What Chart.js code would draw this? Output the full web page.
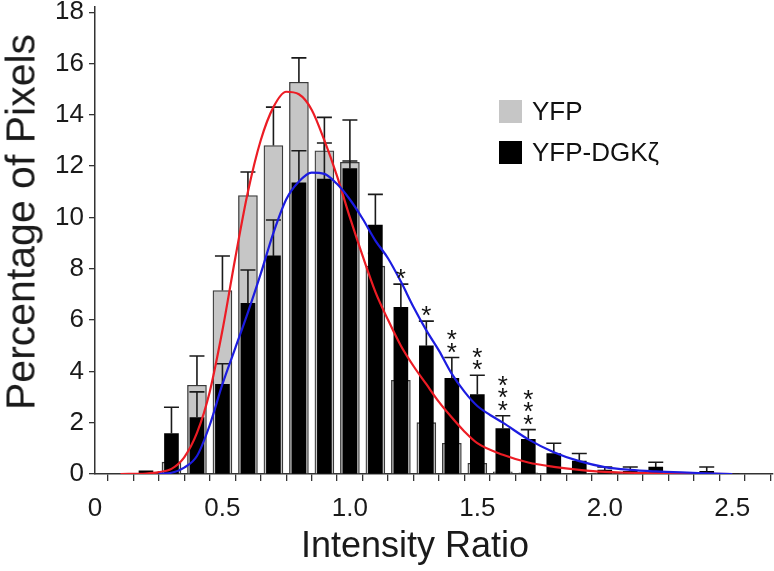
<!DOCTYPE html>
<html>
<head>
<meta charset="utf-8">
<script src="https://cdn.jsdelivr.net/npm/chart.js@4.4.1/dist/chart.umd.min.js"></script>
<style>
  html, body { margin: 0; padding: 0; background: #fff; }
  #wrap { position: relative; width: 774px; height: 571px; overflow: hidden; }
  .txt { position: absolute; font-family: "Liberation Sans", Arial, sans-serif; color: #1a1a1a; white-space: nowrap; }
  #legend { left: 499px; top: 91px; font-size: 26px; color: #111; }
  .item { display: flex; align-items: center; height: 41px; }
  .sw { width: 23px; height: 23px; margin-right: 10px; box-sizing: border-box; }
  #xtitle { left: 415px; top: 527px; font-size: 36px; line-height: 36px; transform: translateX(-50%); }
  #ytitle { left: 21px; top: 222px; font-size: 41px; line-height: 41px; transform: translate(-50%, -50%) rotate(-90deg); }
</style>
</head>
<body>
<div id="wrap">
  <canvas id="c" width="774" height="571"></canvas>
  <div id="legend" class="txt">
    <div class="item"><span class="sw" style="background:#c6c6c6"></span><span>YFP</span></div>
    <div class="item"><span class="sw" style="background:#000"></span><span>YFP-DGKζ</span></div>
  </div>
  <div id="xtitle" class="txt">Intensity Ratio</div>
  <div id="ytitle" class="txt">Percentage of Pixels</div>
</div>
<script>
// Bin centres (intensity ratio)
const bins = [0.2, 0.3, 0.4, 0.5, 0.6, 0.7, 0.8, 0.9, 1.0, 1.1, 1.2, 1.3, 1.4, 1.5, 1.6, 1.7, 1.8, 1.9, 2.0, 2.1, 2.2, 2.3, 2.4, 2.5];
// YFP (grey bars) percentage of pixels and upper error
const yfpValues = [0, 0.46, 3.46, 7.15, 10.85, 12.8, 15.27, 12.6, 12.15, 8.1, 3.65, 2.0, 1.2, 0.42, 0.08, 0.05, 0.03, 0.03, 0.03, 0.03, 0.03, 0.03, 0.03, 0];
const yfpErrors = [null, null, 1.14, 1.35, 0.92, 1.5, 0.95, 1.3, 1.65, 0.5, null, null, null, null, null, null, null, null, null, null, null, null, null, null];
// YFP-DGKζ (black bars) percentage of pixels and upper error
const dgkValues = [0.12, 1.58, 2.2, 3.5, 6.65, 8.5, 11.35, 11.5, 11.9, 9.7, 6.5, 5.0, 3.73, 3.1, 1.77, 1.35, 0.8, 0.5, 0.15, 0.1, 0.27, 0.03, 0.1, 0];
const dgkErrors = [null, 1.02, 1.0, 0.8, 1.3, 1.4, 1.25, 1.4, 0.3, 1.2, 0.9, 0.96, 0.81, 0.75, 0.5, 0.38, 0.4, 0.3, 0.12, 0.17, 0.19, null, 0.17, null];
// Significance markers
const starBins = [1.2, 1.3, 1.4, 1.5, 1.6, 1.7];
const starCounts = [1, 1, 2, 2, 3, 3];
// Fitted curves
const redX = [0.10, 0.20, 0.25, 0.30, 0.35, 0.40, 0.45, 0.50, 0.55, 0.60, 0.65, 0.70, 0.75, 0.80, 0.85, 0.90, 0.95, 1.00, 1.05, 1.10, 1.15, 1.20, 1.25, 1.30, 1.35, 1.40, 1.45, 1.50, 1.60, 1.70, 1.80, 1.90, 2.00, 2.20, 2.50];
const redY = [0, 0.02, 0.07, 0.2, 0.65, 1.6, 3.2, 5.6, 8.4, 11.0, 13.0, 14.3, 14.9, 14.8, 14.2, 13.0, 11.6, 10.0, 8.5, 7.1, 6.0, 5.0, 4.2, 3.5, 2.8, 2.2, 1.65, 1.2, 0.75, 0.45, 0.28, 0.16, 0.08, 0.03, 0];
const blueX = [0.25, 0.30, 0.35, 0.40, 0.45, 0.50, 0.55, 0.60, 0.65, 0.70, 0.75, 0.80, 0.85, 0.90, 0.95, 1.00, 1.05, 1.10, 1.15, 1.20, 1.25, 1.30, 1.35, 1.40, 1.45, 1.50, 1.55, 1.60, 1.70, 1.80, 1.90, 2.00, 2.10, 2.20, 2.30, 2.40, 2.50];
const blueY = [0, 0.05, 0.25, 0.7, 1.9, 3.5, 4.9, 6.3, 7.8, 9.4, 10.7, 11.4, 11.75, 11.7, 11.3, 10.7, 9.95, 9.1, 8.4, 7.5, 6.5, 5.6, 4.8, 3.9, 3.2, 2.65, 2.3, 2.0, 1.35, 0.85, 0.5, 0.27, 0.16, 0.1, 0.06, 0.03, 0];
// Axis tick labels
const yTickLabels = ['0', '2', '4', '6', '8', '10', '12', '14', '16', '18'];
const xTickLabels = { '0': '0', '0.5': '0.5', '1': '1.0', '1.5': '1.5', '2': '2.0', '2.5': '2.5' };

const FONT = '"Liberation Sans", Arial, sans-serif';

const errorBars = {
  id: 'errorBars',
  afterDatasetDraw(chart, args) {
    const ds = chart.data.datasets[args.index];
    if (!ds.errors) return;
    const ctx = chart.ctx, ys = chart.scales.y;
    ctx.save();
    ctx.strokeStyle = '#1a1a1a';
    ctx.lineWidth = 1.6;
    args.meta.data.forEach((bar, i) => {
      const e = ds.errors[i];
      if (e == null) return;
      const top = ys.getPixelForValue(ds.data[i].y + e);
      ctx.beginPath();
      ctx.moveTo(bar.x, bar.y);
      ctx.lineTo(bar.x, top);
      ctx.moveTo(bar.x - 7.5, top);
      ctx.lineTo(bar.x + 7.5, top);
      ctx.stroke();
    });
    ctx.restore();
  }
};

const stars = {
  id: 'stars',
  afterDraw(chart) {
    const ctx = chart.ctx, xs = chart.scales.x, ys = chart.scales.y;
    ctx.save();
    ctx.fillStyle = '#111';
    ctx.font = '26px ' + FONT;
    ctx.textAlign = 'center';
    ctx.textBaseline = 'alphabetic';
    starBins.forEach((b, k) => {
      const i = bins.indexOf(b);
      const top = ys.getPixelForValue(dgkValues[i] + (dgkErrors[i] || 0));
      const x = xs.getPixelForValue(b);
      for (let s = 0; s < starCounts[k]; s++) {
        const cy = top - 12 - s * 12.5;
        ctx.fillText('*', x, cy + 15);
      }
    });
    ctx.restore();
  }
};

new Chart(document.getElementById('c'), {
  type: 'bar',
  data: {
    datasets: [
      {
        type: 'line', label: 'YFP fit',
        data: redX.map((x, i) => ({ x, y: redY[i] })),
        borderColor: '#ec1c24', borderWidth: 2.2, pointRadius: 0,
        cubicInterpolationMode: 'monotone', order: 1
      },
      {
        type: 'line', label: 'YFP-DGKζ fit',
        data: blueX.map((x, i) => ({ x, y: blueY[i] })),
        borderColor: '#1c1ce0', borderWidth: 2.2, pointRadius: 0,
        cubicInterpolationMode: 'monotone', order: 0
      },
      {
        label: 'YFP',
        data: bins.map((x, i) => ({ x, y: yfpValues[i] })),
        errors: yfpErrors,
        backgroundColor: '#c6c6c6', borderColor: '#3a3a3a', borderWidth: 1.3,
        barThickness: 19, grouped: false, order: 3
      },
      {
        label: 'YFP-DGKζ',
        data: bins.map((x, i) => ({ x, y: dgkValues[i] })),
        errors: dgkErrors,
        backgroundColor: '#000', borderWidth: 0,
        barThickness: 14, grouped: false, order: 2
      }
    ]
  },
  options: {
    responsive: false,
    animation: false,
    layout: { autoPadding: false, padding: { left: 0, right: 1, top: 3, bottom: 8 } },
    plugins: { legend: { display: false }, tooltip: { enabled: false } },
    scales: {
      x: {
        type: 'linear', min: 0, max: 2.66, offset: false,
        border: { color: '#333', width: 1.5 },
        grid: { drawOnChartArea: false, color: '#333', tickLength: 7, lineWidth: 1.3 },
        ticks: {
          stepSize: 0.1, includeBounds: false, autoSkip: false, maxRotation: 0,
          padding: 12, color: '#1a1a1a', font: { family: FONT, size: 26 },
          callback: (v) => { const k = String(Math.round(v * 10) / 10); return xTickLabels[k] !== undefined ? xTickLabels[k] : ''; }
        },
        afterFit: (s) => { s.height = 89; }
      },
      y: {
        min: 0, max: 18.23,
        border: { color: '#333', width: 1.5 },
        grid: { drawOnChartArea: false, color: '#333', tickLength: 6, lineWidth: 1.3 },
        ticks: {
          stepSize: 2, includeBounds: false, padding: 5, color: '#1a1a1a', font: { family: FONT, size: 26, lineHeight: 0.1 },
          callback: (v, i) => yTickLabels[i]
        },
        afterFit: (s) => { s.width = 95; }
      }
    }
  },
  plugins: [errorBars, stars]
});
</script>
</body>
</html>
